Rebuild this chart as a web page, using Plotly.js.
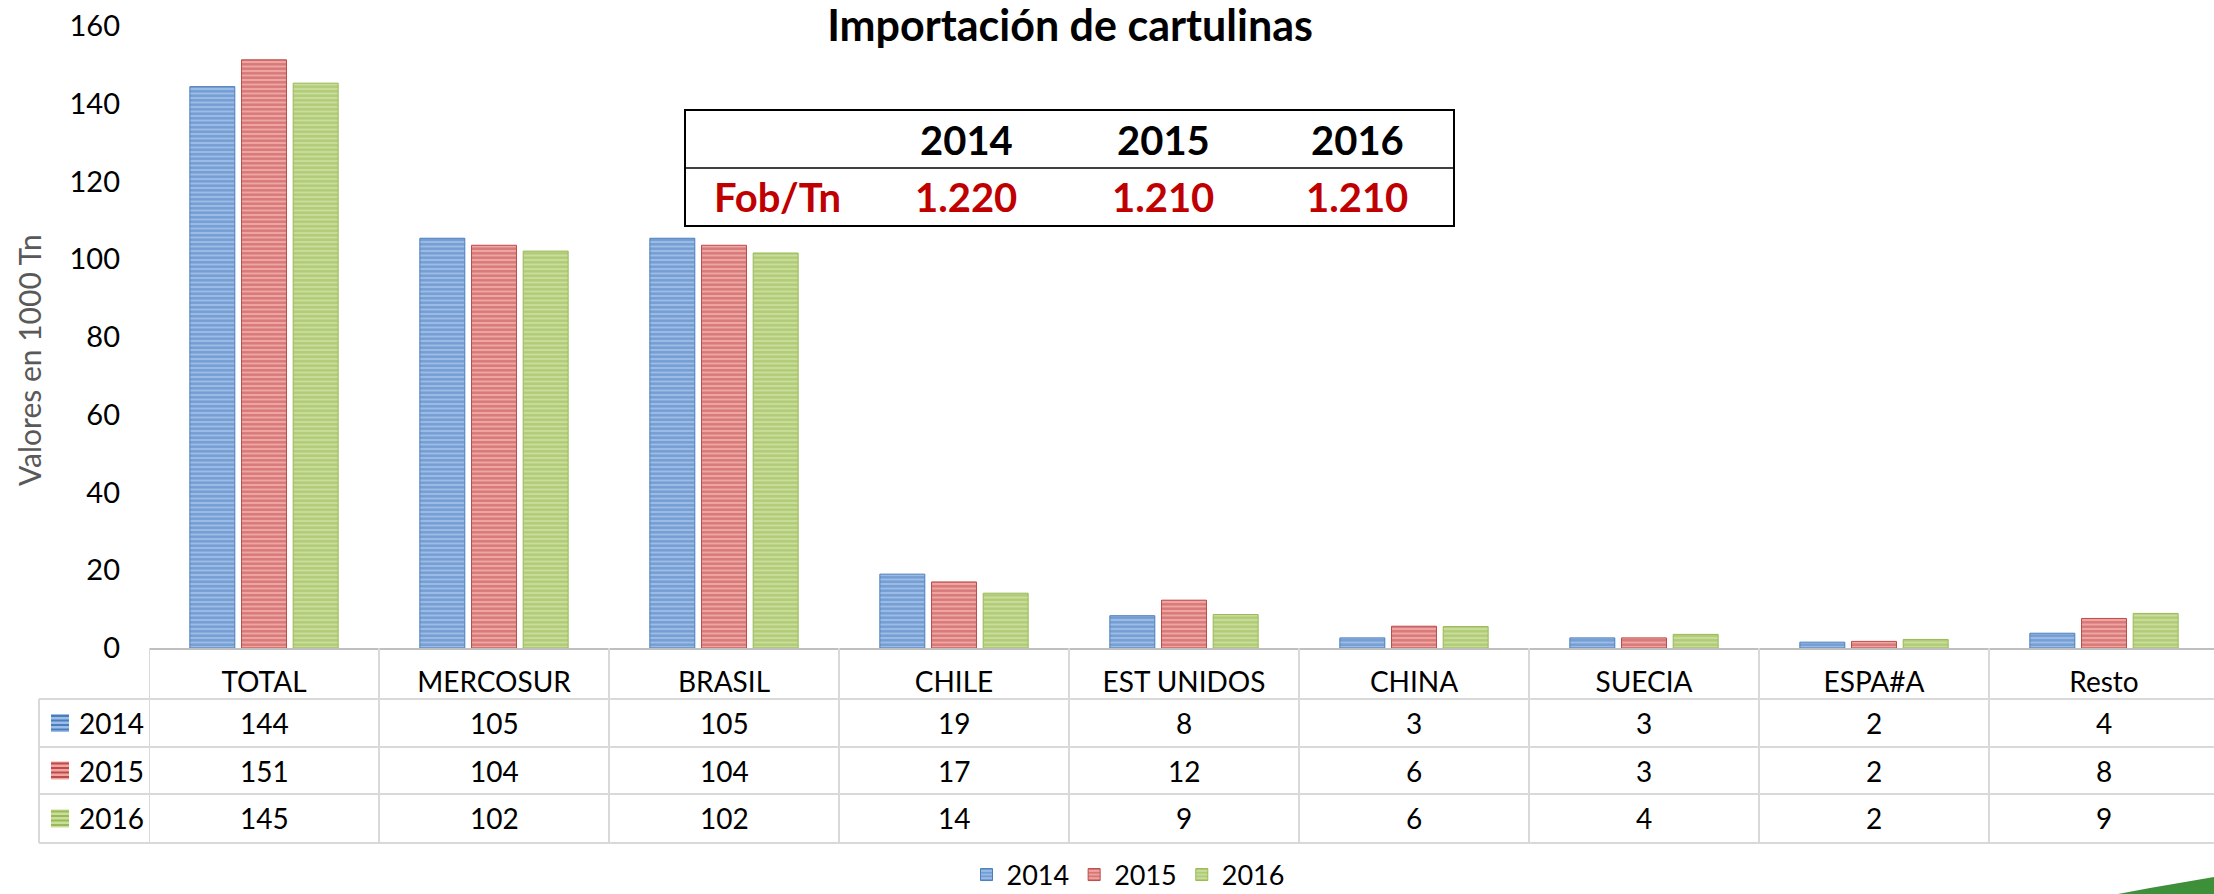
<!DOCTYPE html>
<html>
<head>
<meta charset="utf-8">
<script src="https://cdn.plot.ly/plotly-3.0.1.min.js"></script>
<style>html,body{margin:0;padding:0;background:#fff;}#chart{width:2214px;height:894px;}</style>
</head>
<body>
<div id="chart"></div>
<script>
// ---------- data ----------
const categories = ['TOTAL', 'MERCOSUR', 'BRASIL', 'CHILE', 'EST UNIDOS', 'CHINA', 'SUECIA', 'ESPA#A', 'Resto'];
const years = ['2014', '2015', '2016'];
const values2014 = [144.4, 105.4, 105.4, 19.0, 8.3, 2.6, 2.6, 1.5, 3.8];
const values2015 = [151.3, 103.6, 103.6, 17.0, 12.3, 5.6, 2.6, 1.7, 7.6];
const values2016 = [145.3, 102.1, 101.6, 14.1, 8.6, 5.5, 3.5, 2.2, 8.9];
const fobYears = ['2014', '2015', '2016'];
const fobPerTn = [1220, 1210, 1210];
const yTicks = [0, 20, 40, 60, 80, 100, 120, 140, 160];

// ---------- styles ----------
const FONT = 'Lato, "Noto Sans", sans-serif';
const seriesStyle = [
  {light: '#9dbde8', dark: '#4a7ebb'},
  {light: '#eea6a4', dark: '#be4b48'},
  {light: '#c9dd9c', dark: '#98b954'}
];
const seriesValues = [values2014, values2015, values2016];

// geometry (pixels) of the plot area
const W = 2214, H = 894, L = 149, T = 26, B = 648;
const px2x = p => (p - L) / (W - L);          // paper x
const px2y = p => (B - p) / (B - T);          // paper y

const traces = years.map((yr, i) => ({
  type: 'bar',
  name: yr,
  x: categories,
  y: seriesValues[i],
  marker: {
    color: seriesStyle[i].light,
    line: {color: seriesStyle[i].dark, width: 1},
    pattern: {shape: '-', fgcolor: seriesStyle[i].dark, size: 4.5, solidity: 0.55, fillmode: 'overlay'}
  },
  hoverinfo: 'x+y+name'
}));

// ---------- data table under the axis ----------
const rowLines = [699, 747, 794, 843];
const rowCenters = [723, 770.5, 818.5];
const shapes = [];
const gridColor = '#d9d9d9';
for (let k = 0; k <= categories.length; k++) {
  shapes.push({type: 'line', xref: 'x', yref: 'paper', x0: k - 0.5, x1: k - 0.5,
    y0: px2y(648), y1: px2y(843), line: {color: gridColor, width: 2}});
}
rowLines.forEach(p => shapes.push({type: 'line', xref: 'paper', yref: 'paper',
  x0: px2x(39), x1: 1, y0: px2y(p), y1: px2y(p), line: {color: gridColor, width: 2}}));
shapes.push({type: 'line', xref: 'paper', yref: 'paper', x0: px2x(39), x1: px2x(39),
  y0: px2y(699), y1: px2y(843), line: {color: gridColor, width: 2}});

// legend swatches in the table (striped)
years.forEach((yr, i) => {
  const c = rowCenters[i];
  shapes.push({type: 'rect', xref: 'paper', yref: 'paper', x0: px2x(51), x1: px2x(69),
    y0: px2y(c + 9), y1: px2y(c - 9), fillcolor: seriesStyle[i].light, line: {width: 0}});
  for (let s = 0; s < 4; s++) {
    const yy = c - 8 + s * 4.5;
    shapes.push({type: 'rect', xref: 'paper', yref: 'paper', x0: px2x(51), x1: px2x(69),
      y0: px2y(yy + 2), y1: px2y(yy), fillcolor: seriesStyle[i].dark, line: {width: 0}});
  }
});

// inset FOB table box
shapes.push({type: 'rect', xref: 'paper', yref: 'paper', x0: px2x(685), x1: px2x(1454),
  y0: px2y(226), y1: px2y(110), line: {color: '#000', width: 2}, fillcolor: 'rgba(255,255,255,0)'});
shapes.push({type: 'line', xref: 'paper', yref: 'paper', x0: px2x(685), x1: px2x(1454),
  y0: px2y(168), y1: px2y(168), line: {color: '#000', width: 1.5}});

// decorative green swoosh bottom-right
const sw = [[2118, 894], [2150, 888], [2185, 882], [2214, 877], [2214, 894]];
let swPath = 'M ' + sw.map(p => px2x(p[0]) + ',' + px2y(p[1])).join(' L ') + ' Z';
shapes.push({type: 'path', xref: 'paper', yref: 'paper', path: swPath,
  fillcolor: '#3d8f3a', line: {width: 0}});

const annotations = [];
// table values
seriesValues.forEach((vals, i) => {
  vals.forEach((v, j) => annotations.push({
    xref: 'x', yref: 'paper', x: categories[j], y: px2y(rowCenters[i]),
    text: String(Math.round(v)), showarrow: false, xanchor: 'center', yanchor: 'middle',
    font: {family: FONT, size: 28, color: '#000'}
  }));
  annotations.push({xref: 'paper', yref: 'paper', x: px2x(77), y: px2y(rowCenters[i]),
    text: years[i], showarrow: false, xanchor: 'left', yanchor: 'middle',
    font: {family: FONT, size: 28, color: '#000'}});
});
// y axis title
annotations.push({xref: 'paper', yref: 'paper', x: px2x(29), y: px2y(360), text: 'Valores en 1000 Tn',
  textangle: -90, showarrow: false, xanchor: 'center', yanchor: 'middle',
  font: {family: FONT, size: 30, color: '#595959'}});
// inset table text
const fmt = n => String(n).replace(/\B(?=(\d{3})+(?!\d))/g, '.');
const insetX = [966, 1163, 1357];
fobYears.forEach((yr, i) => {
  annotations.push({xref: 'paper', yref: 'paper', x: px2x(insetX[i]), y: px2y(140), text: '<b>' + yr + '</b>',
    showarrow: false, xanchor: 'center', yanchor: 'middle', font: {family: FONT, size: 40, color: '#000'}});
  annotations.push({xref: 'paper', yref: 'paper', x: px2x(insetX[i]), y: px2y(197), text: '<b>' + fmt(fobPerTn[i]) + '</b>',
    showarrow: false, xanchor: 'center', yanchor: 'middle', font: {family: FONT, size: 40, color: '#c00000'}});
});
annotations.push({xref: 'paper', yref: 'paper', x: px2x(777), y: px2y(197), text: '<b>Fob/Tn</b>',
  showarrow: false, xanchor: 'center', yanchor: 'middle', font: {family: FONT, size: 40, color: '#c00000'}});

const layout = {
  width: W, height: H,
  margin: {l: L, r: 0, t: T, b: H - B, pad: 0, autoexpand: false},
  paper_bgcolor: '#fff', plot_bgcolor: '#fff',
  font: {family: FONT, size: 28, color: '#000'},
  title: {text: '<b>Importación de cartulinas</b>', x: 1070 / W, xanchor: 'center', xref: 'container',
    y: 1 - 26 / H, yanchor: 'middle', yref: 'container', font: {family: FONT, size: 43, color: '#000'}},
  barmode: 'group', bargap: 0.326, bargroupgap: 0.13,
  xaxis: {type: 'category', range: [-0.5, categories.length - 0.5 - 5 / 230], showgrid: false, zeroline: false,
    showline: true, linecolor: '#bfbfbf', linewidth: 2, ticks: '', ticklabelstandoff: 8, automargin: false,
    tickfont: {family: FONT, size: 28, color: '#000'}, fixedrange: true},
  yaxis: {range: [0, 160], tickvals: yTicks, showgrid: false, zeroline: false, showline: false, ticks: '',
    ticklabelstandoff: 28, automargin: false, tickfont: {family: FONT, size: 29, color: '#000'}, fixedrange: true},
  showlegend: true,
  legend: {orientation: 'h', xref: 'container', yref: 'container', x: 1128 / W, xanchor: 'center',
    y: 1 - 875 / H, yanchor: 'middle', tracegroupgap: 0, itemwidth: 30,
    font: {family: FONT, size: 27, color: '#000'}, bgcolor: 'rgba(0,0,0,0)'},
  shapes: shapes,
  annotations: annotations
};

Plotly.newPlot('chart', traces, layout, {displayModeBar: false, staticPlot: true});
</script>
</body>
</html>
